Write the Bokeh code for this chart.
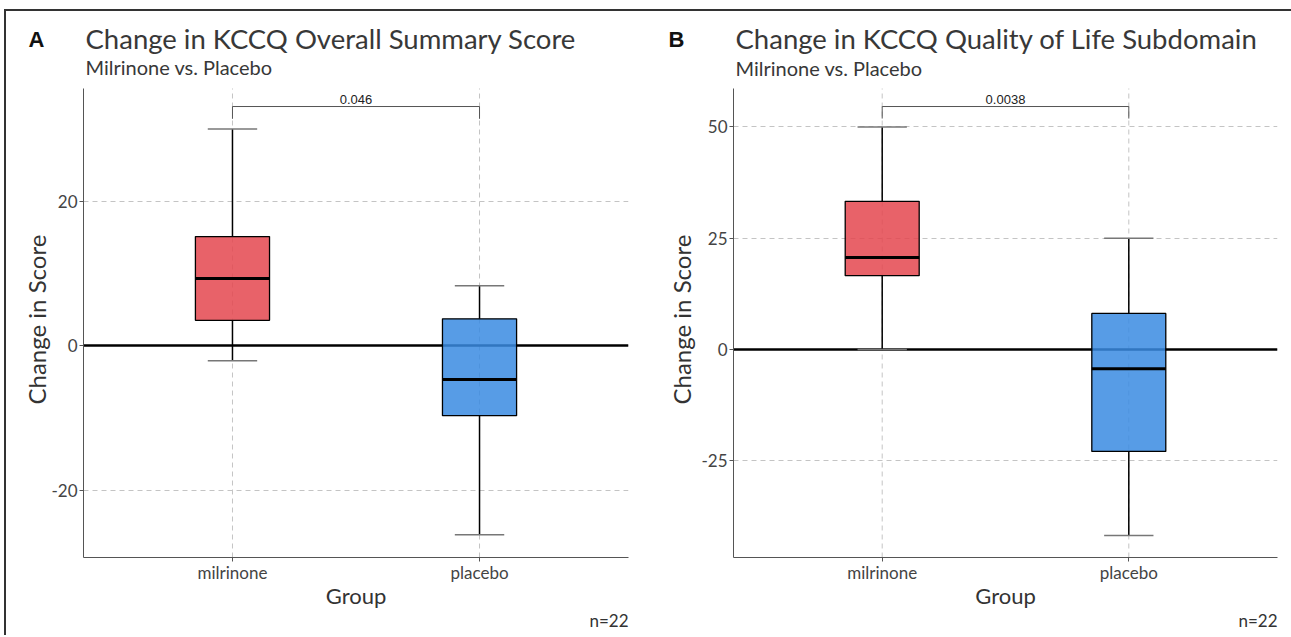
from bokeh.plotting import figure
from bokeh.models import (FactorRange, Range1d, FixedTicker, Span, Label, Title, LinearAxis,
                          CustomJSTickFormatter)
from bokeh.transform import dodge
from bokeh.layouts import row
from bokeh.embed import file_html
from bokeh.resources import INLINE

groups = ["milrinone", "placebo"]
fill_colors = ["#E4474F", "#3A8BE2"]
n_label = "n=22"
subtitle = "Milrinone vs. Placebo"
y_label = "Change in Score"
x_label = "Group"

# Panel A: KCCQ Overall Summary Score
a_q1 = [3.5, -9.7]
a_med = [9.3, -4.7]
a_q3 = [15.1, 3.7]
a_lower = [-2.1, -26.2]
a_upper = [30.0, 8.3]
a_ticks = [-20, 0, 20]
a_pvalue = "0.046"
a_bracket = [33.1, 31.4]
a_axis = (-29.34, 35.6)

# Panel B: KCCQ Quality of Life Subdomain
b_q1 = [16.6, -22.9]
b_med = [20.7, -4.3]
b_q3 = [33.3, 8.1]
b_lower = [0.0, -41.8]
b_upper = [50.0, 25.0]
b_ticks = [-25, 0, 25, 50]
b_pvalue = "0.0038"
b_bracket = [54.6, 51.9]
b_axis = (-46.74, 58.65)

FONT = "Lato"
H = 624
PAD = 0.103
HEADER_PX = 77   # screen space kept above the axis for the titles


def make_panel(letter, title, q1, med, q3, lo, hi, ticks, axis_span, px_per_unit, pval, bracket,
               width, mb_left, mb_right, ylab_standoff, letter_standoff):
    y0, y1 = axis_span
    y_top = y1 + HEADER_PX / px_per_unit
    p = figure(x_range=FactorRange(*groups, range_padding=PAD, range_padding_units="absolute"),
               y_range=Range1d(y0, y_top), width=width, height=H,
               output_backend="svg", toolbar_location=None,
               min_border_left=mb_left, min_border_right=mb_right,
               min_border_top=0, min_border_bottom=78)
    p.outline_line_color = None
    p.background_fill_color = "white"
    p.border_fill_color = "white"

    p.ygrid.grid_line_color = "#c4c4c4"
    p.ygrid.grid_line_dash = "5 4"
    p.ygrid.grid_line_width = 1
    p.xgrid.visible = False
    # vertical category grid lines, limited to the axis span
    p.segment(x0=groups, y0=[y0] * 2, x1=groups, y1=[y1] * 2, line_color="#c4c4c4",
              line_dash="5 4", line_width=1, level="underlay")

    p.yaxis.ticker = FixedTicker(ticks=ticks)
    p.yaxis.formatter = CustomJSTickFormatter(code="return String(tick);")
    p.yaxis.bounds = (y0, y1)
    for ax in (p.xaxis, p.yaxis):
        ax.axis_line_color = "#555555"
        ax.axis_line_width = 1
        ax.major_tick_line_color = "#555555"
        ax.major_tick_out = 4
        ax.major_tick_in = 0
        ax.minor_tick_line_color = None
        ax.major_label_text_font = FONT
        ax.major_label_text_font_size = "17px"
        ax.major_label_text_color = "#444444"
        ax.axis_label_text_font = FONT
        ax.axis_label_text_font_style = "normal"
        ax.axis_label_text_color = "#333333"
    p.xaxis.axis_label = x_label
    p.xaxis.axis_label_text_font_size = "22px"
    p.xaxis.major_label_standoff = 0
    p.yaxis.major_label_standoff = 2
    p.xaxis.axis_label_standoff = -4

    # y-axis title, aligned to the middle of the axis span (not the whole frame)
    p.add_layout(Title(text=y_label, align="left", offset=153, standoff=ylab_standoff,
                       text_font=FONT, text_font_size="24px", text_font_style="normal",
                       text_color="#333333"), "left")
    # panel letter, drawn as the single tick label of an extra bare axis
    letter_axis = LinearAxis(ticker=FixedTicker(ticks=[y1 + 49 / px_per_unit]),
                             formatter=CustomJSTickFormatter(code="return %r;" % letter),
                             axis_line_color=None, major_tick_line_color=None,
                             minor_tick_line_color=None, major_tick_out=0, major_tick_in=0,
                             major_label_standoff=letter_standoff,
                             major_label_text_font="Liberation Sans",
                             major_label_text_font_style="bold",
                             major_label_text_font_size="22px",
                             major_label_text_color="#111111")
    p.add_layout(letter_axis, "left")

    p.add_layout(Span(location=0, dimension="width", line_color="black",
                      line_width=2.5, level="underlay"))

    src = dict(group=groups, q1=q1, med=med, q3=q3, lo=lo, hi=hi, fill=fill_colors)
    # whisker stems
    p.segment(x0="group", y0="q3", x1="group", y1="hi", source=src,
              line_color="black", line_width=1.5)
    p.segment(x0="group", y0="lo", x1="group", y1="q1", source=src,
              line_color="black", line_width=1.5)
    # caps
    p.segment(x0=dodge("group", -0.1, range=p.x_range), y0="hi",
              x1=dodge("group", 0.1, range=p.x_range), y1="hi", source=src,
              line_color="#777777", line_width=1.5)
    p.segment(x0=dodge("group", -0.1, range=p.x_range), y0="lo",
              x1=dodge("group", 0.1, range=p.x_range), y1="lo", source=src,
              line_color="#777777", line_width=1.5)
    # boxes
    p.vbar(x="group", top="q3", bottom="q1", width=0.3, source=src,
           fill_color="fill", fill_alpha=0.85, line_color="black", line_width=1.3)
    # medians
    p.segment(x0=dodge("group", -0.15, range=p.x_range), y0="med",
              x1=dodge("group", 0.15, range=p.x_range), y1="med", source=src,
              line_color="black", line_width=3)

    # significance bracket
    p.segment(x0=[groups[0]], y0=[bracket[0]], x1=[groups[1]], y1=[bracket[0]],
              line_color="#555555", line_width=1)
    p.segment(x0=groups, y0=[bracket[0]] * 2, x1=groups, y1=[bracket[1]] * 2,
              line_color="#555555", line_width=1)
    p.add_layout(Label(x=1.0, y=bracket[0], text=pval, text_align="center",
                       text_baseline="bottom", y_offset=3,
                       text_font="Liberation Sans", text_font_size="13px",
                       text_color="#222222"))

    # titles anchored at the top-left end of the y axis
    x_left = -PAD
    p.add_layout(Label(x=x_left, y=y1, x_offset=2, y_offset=50, text=title,
                       text_font=FONT, text_font_size="27.5px", text_baseline="middle",
                       text_color="#383838"))
    p.add_layout(Label(x=x_left, y=y1, x_offset=2, y_offset=21, text=subtitle,
                       text_font=FONT, text_font_size="20px", text_baseline="middle",
                       text_color="#383838"))
    p.add_layout(Title(text=n_label, align="right", standoff=-8,
                       text_font=FONT, text_font_size="17px", text_font_style="normal",
                       text_color="#333333"), "below")
    return p


pA = make_panel("A", "Change in KCCQ Overall Summary Score", a_q1, a_med, a_q3, a_lower, a_upper,
                a_ticks, a_axis, 7.225, a_pvalue, a_bracket, 644, 77, 22, -4, -23)
pB = make_panel("B", "Change in KCCQ Quality of Life Subdomain", b_q1, b_med, b_q3, b_lower, b_upper,
                b_ticks, b_axis, 4.45, b_pvalue, b_bracket, 641, 83, 14, 6, -23)

layout = row(pA, pB, styles={"border-left": "2px solid #333333", "border-top": "2px solid #333333",
                             "border-right": "none", "border-bottom": "none",
                             "margin-left": "4px", "margin-top": "9px"})
open("out.html", "w").write(file_html(layout, INLINE))
